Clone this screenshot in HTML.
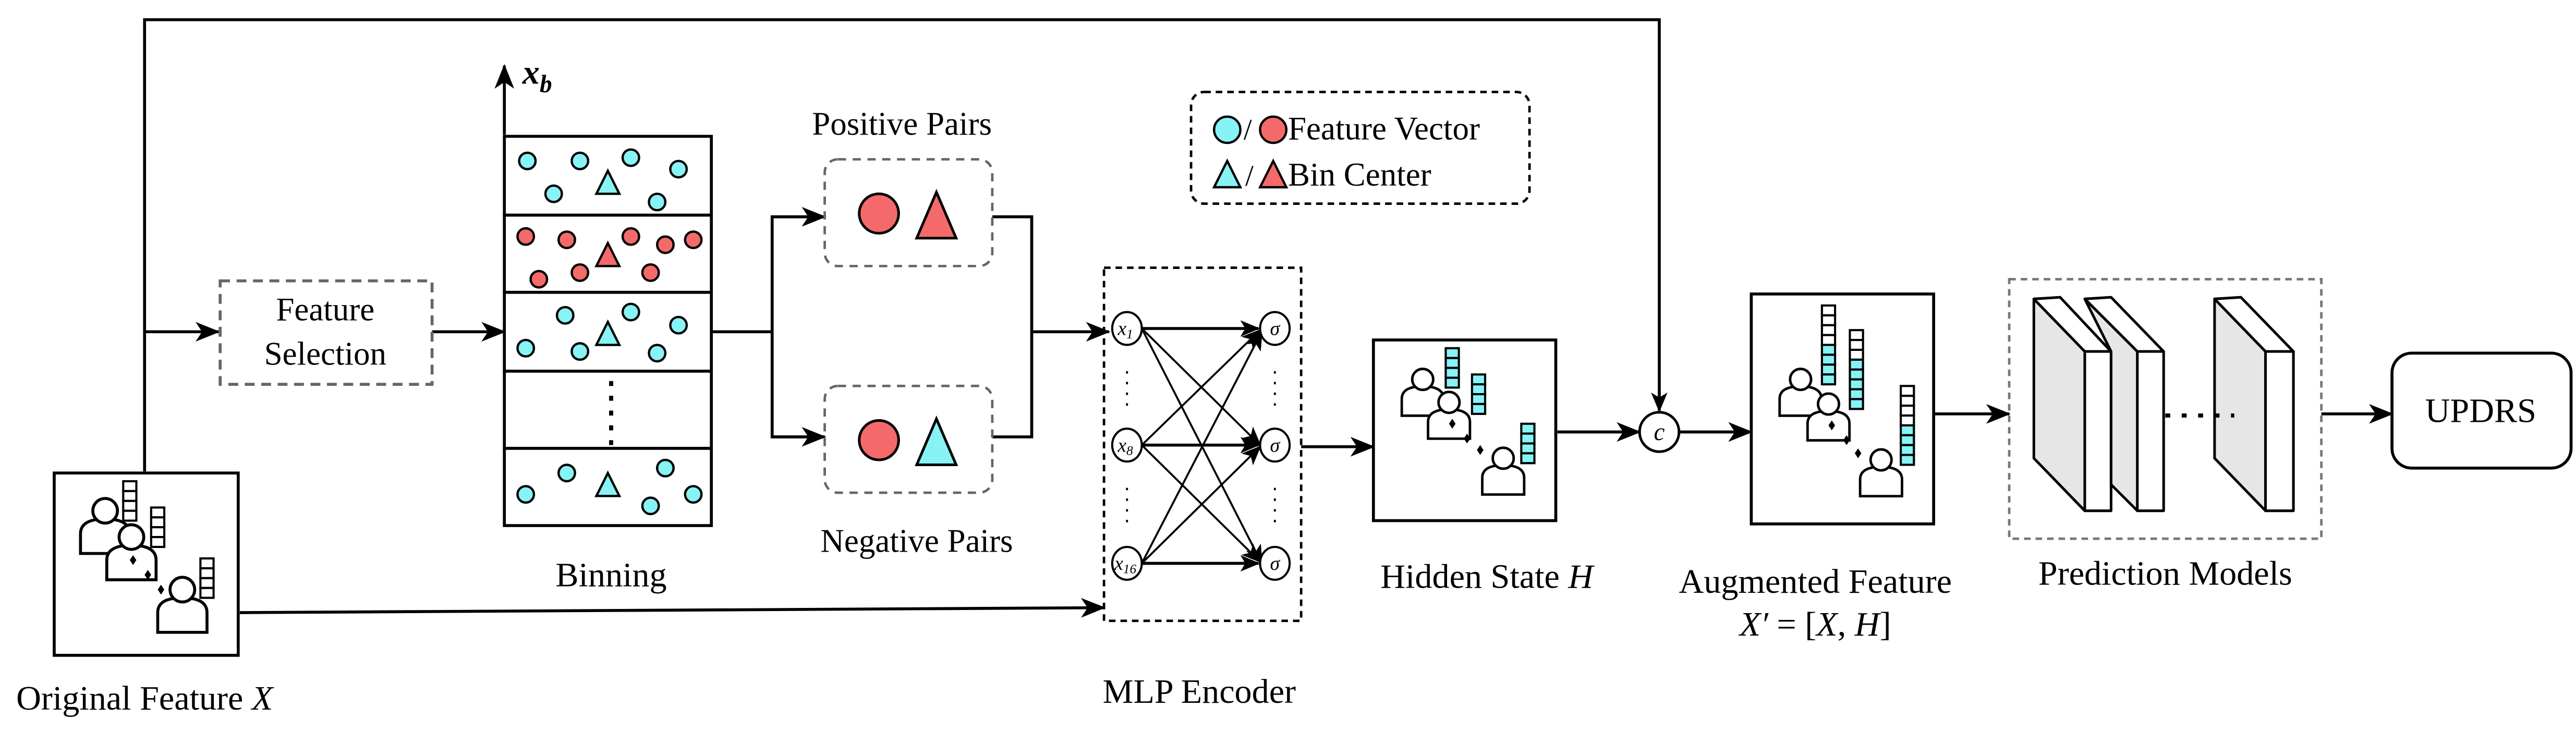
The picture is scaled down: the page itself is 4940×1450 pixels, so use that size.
<!DOCTYPE html>
<html><head><meta charset="utf-8"><style>html,body{margin:0;padding:0;background:#fff}svg{display:block}svg text{font-family:"Liberation Serif","DejaVu Serif",serif !important;fill:#000}</style></head><body>
<svg width="4940" height="1450" viewBox="0 0 1568 460.3" preserveAspectRatio="none" xmlns="http://www.w3.org/2000/svg" font-family="'Liberation Serif', serif">
<defs>
<marker id="ar" markerWidth="15" markerHeight="12" refX="14" refY="6" orient="auto" markerUnits="userSpaceOnUse"><path d="M0,0 L15,6 L0,12 L4,6 Z" fill="#000"/></marker>
<marker id="ars" markerWidth="12" markerHeight="10" refX="11" refY="5" orient="auto" markerUnits="userSpaceOnUse"><path d="M0,0 L12,5 L0,10 L3,5 Z" fill="#000"/></marker>
<g id="p"><path d="M-15,26 L-15,14 Q-15,5 0,5 Q15,5 15,14 L15,26 Z" fill="#fff" stroke="#000" stroke-width="1.8"/><circle cx="0" cy="0" r="7.5" fill="#fff" stroke="#000" stroke-width="1.8"/></g>
<g id="c"><rect x="0" y="0" width="8" height="6" fill="#fff" stroke="#000" stroke-width="1.3"/></g>
<g id="cc"><rect x="0" y="0" width="8" height="6" fill="#87f3f5" stroke="#000" stroke-width="1.3"/></g>
<circle id="bc" r="5" fill="#87f3f5" stroke="#000" stroke-width="1.4"/>
<circle id="rc" r="5" fill="#f46a6a" stroke="#000" stroke-width="1.4"/>
<path id="bt" d="M0,-8 L7,6 L-7,6 Z" fill="#87f3f5" stroke="#000" stroke-width="1.4"/>
<path id="rt" d="M0,-8 L7,6 L-7,6 Z" fill="#f46a6a" stroke="#000" stroke-width="1.4"/>
</defs>
<g fill="none" stroke="#000" stroke-width="1.8">
<polyline points="88,287 88,12 1010,12 1010,250" />
<line x1="1010" y1="200" x2="1010" y2="250" marker-end="url(#ars)" stroke-width="1.2"/>
<line x1="88" y1="202" x2="133" y2="202" marker-end="url(#ar)"/>
<line x1="263" y1="202" x2="307" y2="202" marker-end="url(#ar)"/>
<line x1="307" y1="82" x2="307" y2="40" marker-end="url(#ar)"/>
<polyline points="433,202 470,202"/>
<polyline points="502,132 470,132 470,266 502,266" />
<line x1="470" y1="132" x2="502" y2="132" marker-end="url(#ar)"/>
<line x1="470" y1="266" x2="502" y2="266" marker-end="url(#ar)"/>
<polyline points="604,132 628,132 628,266 604,266"/>
<line x1="628" y1="202" x2="675" y2="202" marker-end="url(#ar)"/>
<line x1="146" y1="373" x2="672" y2="370" marker-end="url(#ar)"/>
<line x1="792" y1="272" x2="836" y2="272" marker-end="url(#ar)"/>
<line x1="948" y1="263" x2="998" y2="263" marker-end="url(#ar)"/>
<line x1="1022" y1="263" x2="1066" y2="263" marker-end="url(#ar)"/>
<line x1="1177" y1="252" x2="1223" y2="252" marker-end="url(#ar)"/>
<line x1="1413" y1="252" x2="1456" y2="252" marker-end="url(#ar)"/>
</g>
<rect x="33" y="288" width="112" height="111" fill="#fff" stroke="#000" stroke-width="1.8"/>
<g transform="translate(75,293)"><use href="#c"/><use href="#c" y="6"/><use href="#c" y="12"/><use href="#c" y="18"/></g>
<g transform="translate(92,309)"><use href="#c"/><use href="#c" y="6"/><use href="#c" y="12"/><use href="#c" y="18"/></g>
<g transform="translate(122,340)"><use href="#c"/><use href="#c" y="6"/><use href="#c" y="12"/><use href="#c" y="18"/></g>
<use href="#p" x="64" y="311"/><use href="#p" x="80" y="327"/><use href="#p" x="111" y="359"/>
<path d="M81,338 l2,3 l-2,3 l-2,-3z M90,347 l2,3 l-2,3 l-2,-3z M98,356 l2,3 l-2,3 l-2,-3z" fill="#000"/>
<text x="88" y="432" font-size="21" text-anchor="middle">Original Feature <tspan font-style="italic">X</tspan></text>
<rect x="134" y="171" width="129" height="63" fill="none" stroke="#666" stroke-width="1.8" stroke-dasharray="6,4"/>
<text x="198" y="195" font-size="20" text-anchor="middle">Feature</text>
<text x="198" y="222" font-size="20" text-anchor="middle">Selection</text>
<g fill="#fff" stroke="#000" stroke-width="1.8">
<rect x="307" y="83" width="126" height="48"/><rect x="307" y="131" width="126" height="47"/><rect x="307" y="178" width="126" height="48"/><rect x="307" y="226" width="126" height="47"/><rect x="307" y="273" width="126" height="47"/>
</g>
<use href="#bc" x="321" y="98"/><use href="#bc" x="353" y="98"/><use href="#bc" x="384" y="96"/><use href="#bc" x="413" y="103"/><use href="#bc" x="337" y="118"/><use href="#bc" x="400" y="123"/><use href="#bt" x="370" y="112"/>
<use href="#rc" x="320" y="144"/><use href="#rc" x="345" y="146"/><use href="#rc" x="384" y="144"/><use href="#rc" x="405" y="149"/><use href="#rc" x="422" y="146"/><use href="#rc" x="328" y="170"/><use href="#rc" x="353" y="166"/><use href="#rc" x="396" y="166"/><use href="#rt" x="370" y="156"/>
<use href="#bc" x="344" y="192"/><use href="#bc" x="384" y="190"/><use href="#bc" x="413" y="198"/><use href="#bc" x="320" y="212"/><use href="#bc" x="353" y="214"/><use href="#bc" x="400" y="215"/><use href="#bt" x="370" y="204"/>
<line x1="372" y1="232" x2="372" y2="271" stroke="#000" stroke-width="2.5" stroke-dasharray="3,6"/>
<use href="#bc" x="320" y="301"/><use href="#bc" x="345" y="288"/><use href="#bc" x="405" y="285"/><use href="#bc" x="422" y="301"/><use href="#bc" x="396" y="308"/><use href="#bt" x="370" y="296"/>
<text x="318" y="51" font-size="21" font-style="italic" font-weight="bold">x<tspan font-size="15" dy="5">b</tspan></text>
<text x="372" y="357" font-size="21" text-anchor="middle">Binning</text>
<rect x="502" y="97" width="102" height="65" rx="8" fill="none" stroke="#666" stroke-width="1.5" stroke-dasharray="5,4"/>
<rect x="502" y="235" width="102" height="65" rx="8" fill="none" stroke="#666" stroke-width="1.5" stroke-dasharray="5,4"/>
<circle cx="535" cy="130" r="12" fill="#f46a6a" stroke="#000" stroke-width="1.6"/>
<path d="M570,117 L582,145 L558,145 Z" fill="#f46a6a" stroke="#000" stroke-width="1.6"/>
<circle cx="535" cy="268" r="12" fill="#f46a6a" stroke="#000" stroke-width="1.6"/>
<path d="M570,255 L582,283 L558,283 Z" fill="#87f3f5" stroke="#000" stroke-width="1.6"/>
<text x="549" y="82" font-size="20" text-anchor="middle">Positive Pairs</text>
<text x="558" y="336" font-size="20" text-anchor="middle">Negative Pairs</text>
<rect x="725" y="56" width="206" height="68" rx="8" fill="none" stroke="#000" stroke-width="1.5" stroke-dasharray="4,3"/>
<circle cx="747" cy="79" r="8" fill="#87f3f5" stroke="#000" stroke-width="1.4"/>
<text x="757" y="85" font-size="18">/</text>
<circle cx="775" cy="79" r="8" fill="#f46a6a" stroke="#000" stroke-width="1.4"/>
<text x="784" y="85" font-size="20">Feature Vector</text>
<path d="M747,98 L755,114 L739,114 Z" fill="#87f3f5" stroke="#000" stroke-width="1.4"/>
<text x="758" y="113" font-size="18">/</text>
<path d="M775,98 L783,114 L767,114 Z" fill="#f46a6a" stroke="#000" stroke-width="1.4"/>
<text x="784" y="113" font-size="20">Bin Center</text>
<rect x="672" y="163" width="120" height="215" fill="none" stroke="#000" stroke-width="1.5" stroke-dasharray="4,3"/>
<g stroke="#000" stroke-width="1.2" fill="none">
<line x1="695" y1="200" x2="766" y2="200" marker-end="url(#ars)" stroke-width="1.8"/>
<line x1="695" y1="200" x2="767" y2="271" marker-end="url(#ars)"/>
<line x1="695" y1="200" x2="768" y2="343" marker-end="url(#ars)"/>
<line x1="695" y1="271" x2="767" y2="201" marker-end="url(#ars)"/>
<line x1="695" y1="271" x2="766" y2="271" marker-end="url(#ars)" stroke-width="1.8"/>
<line x1="695" y1="271" x2="767" y2="342" marker-end="url(#ars)"/>
<line x1="695" y1="343" x2="768" y2="202" marker-end="url(#ars)"/>
<line x1="695" y1="343" x2="767" y2="272" marker-end="url(#ars)"/>
<line x1="695" y1="343" x2="766" y2="343" marker-end="url(#ars)" stroke-width="1.8"/>
<line x1="686" y1="226" x2="686" y2="250" stroke-dasharray="1.5,5"/>
<line x1="686" y1="297" x2="686" y2="322" stroke-dasharray="1.5,5"/>
<line x1="776" y1="226" x2="776" y2="250" stroke-dasharray="1.5,5"/>
<line x1="776" y1="297" x2="776" y2="322" stroke-dasharray="1.5,5"/>
</g>
<g fill="#fff" stroke="#000" stroke-width="1.3">
<ellipse cx="686" cy="200" rx="9" ry="10"/><ellipse cx="686" cy="271" rx="9" ry="10"/><ellipse cx="686" cy="343" rx="9" ry="10"/>
<ellipse cx="776" cy="200" rx="9" ry="10"/><ellipse cx="776" cy="271" rx="9" ry="10"/><ellipse cx="776" cy="343" rx="9" ry="10"/>
</g>
<g font-size="12" font-style="italic" text-anchor="middle">
<text x="685" y="204">x<tspan font-size="8" dy="2">1</tspan></text><text x="685" y="275">x<tspan font-size="8" dy="2">8</tspan></text><text x="685" y="347">x<tspan font-size="8" dy="2">16</tspan></text>
<text x="776" y="204">σ</text><text x="776" y="275">σ</text><text x="776" y="347">σ</text>
</g>
<text x="730" y="428" font-size="21" text-anchor="middle">MLP Encoder</text>
<rect x="836" y="207" width="111" height="110" fill="#fff" stroke="#000" stroke-width="1.8"/>
<g transform="translate(880,212)"><use href="#cc"/><use href="#cc" y="6"/><use href="#cc" y="12"/><use href="#cc" y="18"/></g>
<g transform="translate(896,228)"><use href="#cc"/><use href="#cc" y="6"/><use href="#cc" y="12"/><use href="#cc" y="18"/></g>
<g transform="translate(926,258)"><use href="#cc"/><use href="#cc" y="6"/><use href="#cc" y="12"/><use href="#cc" y="18"/></g>
<g transform="translate(866,231) scale(.85)"><use href="#p"/></g><g transform="translate(882,245) scale(.85)"><use href="#p"/></g><g transform="translate(915,279) scale(.85)"><use href="#p"/></g>
<path d="M884,255 l2,3 l-2,3 l-2,-3z M893,264 l2,3 l-2,3 l-2,-3z M901,271 l2,3 l-2,3 l-2,-3z" fill="#000"/>
<text x="905" y="358" font-size="21" text-anchor="middle">Hidden State <tspan font-style="italic">H</tspan></text>
<circle cx="1010" cy="263" r="12" fill="#fff" stroke="#000" stroke-width="1.6"/>
<text x="1010" y="268" font-size="15" font-style="italic" text-anchor="middle">c</text>
<rect x="1066" y="179" width="111" height="140" fill="#fff" stroke="#000" stroke-width="1.8"/>
<g transform="translate(1109,186)"><use href="#c"/><use href="#c" y="6"/><use href="#c" y="12"/><use href="#c" y="18"/><use href="#cc" y="24"/><use href="#cc" y="30"/><use href="#cc" y="36"/><use href="#cc" y="42"/></g>
<g transform="translate(1126,201)"><use href="#c"/><use href="#c" y="6"/><use href="#c" y="12"/><use href="#cc" y="18"/><use href="#cc" y="24"/><use href="#cc" y="30"/><use href="#cc" y="36"/><use href="#cc" y="42"/></g>
<g transform="translate(1157,235)"><use href="#c"/><use href="#c" y="6"/><use href="#c" y="12"/><use href="#c" y="18"/><use href="#cc" y="24"/><use href="#cc" y="30"/><use href="#cc" y="36"/><use href="#cc" y="42"/></g>
<g transform="translate(1096,231) scale(.85)"><use href="#p"/></g><g transform="translate(1113,246) scale(.85)"><use href="#p"/></g><g transform="translate(1145,280) scale(.85)"><use href="#p"/></g>
<path d="M1115,256 l2,3 l-2,3 l-2,-3z M1124,265 l2,3 l-2,3 l-2,-3z M1131,273 l2,3 l-2,3 l-2,-3z" fill="#000"/>
<text x="1105" y="361" font-size="21" text-anchor="middle">Augmented Feature</text>
<text x="1105" y="387" font-size="21" text-anchor="middle"><tspan font-style="italic">X′</tspan> = [<tspan font-style="italic">X</tspan>, <tspan font-style="italic">H</tspan>]</text>
<rect x="1223" y="170" width="190" height="158" fill="none" stroke="#777" stroke-width="1.5" stroke-dasharray="4,3"/>
<g stroke="#000" stroke-width="1.6" stroke-linejoin="round">
<path d="M1238,182 L1269,214 L1269,311 L1238,279 Z" fill="#e6e6e6"/><path d="M1238,182 L1254,181 L1285,214 L1269,214 Z" fill="#fff"/><rect x="1269" y="214" width="16" height="97" fill="#fff"/>
<path d="M1269,182 L1301,214 L1301,311 L1285,295 L1285,214 Z" fill="#e6e6e6"/><path d="M1269,182 L1285,181 L1317,214 L1301,214 Z" fill="#fff"/><rect x="1301" y="214" width="16" height="97" fill="#fff"/>
<path d="M1348,182 L1379,214 L1379,311 L1348,279 Z" fill="#e6e6e6"/><path d="M1348,182 L1364,181 L1396,214 L1379,214 Z" fill="#fff"/><rect x="1379" y="214" width="17" height="97" fill="#fff"/>
</g>
<line x1="1318" y1="253" x2="1360" y2="253" stroke="#000" stroke-width="2.5" stroke-dasharray="3,7"/>
<text x="1318" y="356" font-size="21" text-anchor="middle">Prediction Models</text>
<rect x="1456" y="215" width="109" height="70" rx="12" fill="#fff" stroke="#000" stroke-width="1.8"/>
<text x="1510" y="257" font-size="21" text-anchor="middle">UPDRS</text>
</svg>
</body></html>
